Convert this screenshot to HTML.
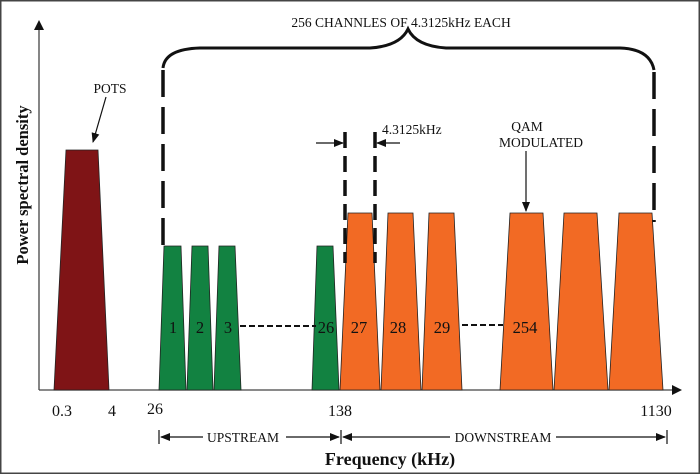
<!DOCTYPE html>
<html><head><meta charset="utf-8"><style>
html,body{margin:0;padding:0;background:#fff}
svg{display:block}
text{font-family:"Liberation Serif",serif;fill:#111}
</style></head><body>
<svg width="700" height="474" viewBox="0 0 700 474" xmlns="http://www.w3.org/2000/svg">
<defs>
<marker id="ah" markerWidth="10" markerHeight="8" refX="9" refY="4" orient="auto" markerUnits="userSpaceOnUse"><path d="M0,0 L10,4 L0,8 Z" fill="#111"/></marker>
</defs>
<rect x="0.75" y="0.75" width="698.5" height="472.5" fill="#fff" stroke="#444" stroke-width="1.5"/>
<!-- axes -->
<line x1="39" y1="390" x2="39" y2="26" stroke="#444" stroke-width="1.3"/>
<path d="M34,30 L39,20 L44,30 Z" fill="#111"/>
<line x1="39" y1="390" x2="676" y2="390" stroke="#444" stroke-width="1.3"/>
<path d="M672,385 L682,390 L672,395 Z" fill="#111"/>
<!-- POTS -->
<polygon points="54,390 66,150 98,150 109,390" fill="#7f1416" stroke="#222" stroke-width="0.8"/>
<!-- green -->
<g fill="#128241" stroke="#222" stroke-width="0.8">
<polygon points="159,390 164,246 181,246 186,390"/>
<polygon points="187,390 192,246 208,246 213,390"/>
<polygon points="214,390 219,246 235,246 241,390"/>
<polygon points="312,390 317,246 333,246 339,390"/>
</g>
<!-- orange -->
<g fill="#f26a24" stroke="#222" stroke-width="0.8">
<polygon points="340,390 348,213 372,213 380,390"/>
<polygon points="381,390 388,213 413,213 421,390"/>
<polygon points="422,390 429,213 454,213 462,390"/>
<polygon points="500,390 510,213 543,213 553,390"/>
<polygon points="554,390 564,213 597,213 608,390"/>
<polygon points="609,390 619,213 652,213 663,390"/>
</g>
<!-- dashed horizontals -->
<line x1="240" y1="326" x2="316" y2="326" stroke="#111" stroke-width="2" stroke-dasharray="6,3"/>
<line x1="462" y1="325" x2="503" y2="325" stroke="#111" stroke-width="2" stroke-dasharray="6,3"/>
<!-- channel labels -->
<g font-size="16.5" text-anchor="middle">
<text x="173" y="333">1</text><text x="200" y="333">2</text><text x="228" y="333">3</text>
<text x="326" y="333">26</text><text x="359" y="333">27</text><text x="398" y="333">28</text>
<text x="442" y="333">29</text><text x="525" y="333">254</text>
</g>
<!-- brace -->
<path d="M163,68 Q165,49 200,48 L370,48 Q400,46 408,29 Q416,46 446,48 L620,48 Q650,49 654,70" fill="none" stroke="#111" stroke-width="3"/>
<line x1="163" y1="70" x2="163" y2="252" stroke="#111" stroke-width="3.5" stroke-dasharray="27,10"/>
<line x1="654" y1="72" x2="654" y2="222" stroke="#111" stroke-width="3.5" stroke-dasharray="27,10"/>
<text x="401" y="27" font-size="13.5" text-anchor="middle">256 CHANNLES OF 4.3125kHz EACH</text>
<!-- 4.3125 markers -->
<line x1="345" y1="132" x2="345" y2="263" stroke="#111" stroke-width="3.5" stroke-dasharray="16,8"/>
<line x1="375" y1="132" x2="375" y2="263" stroke="#111" stroke-width="3.5" stroke-dasharray="16,8"/>
<line x1="316" y1="143" x2="343" y2="143" stroke="#111" stroke-width="1.2" marker-end="url(#ah)"/>
<line x1="400" y1="143" x2="377" y2="143" stroke="#111" stroke-width="1.2" marker-end="url(#ah)"/>
<text x="382" y="134" font-size="13.5">4.3125kHz</text>
<!-- QAM -->
<text x="527" y="131" font-size="13.5" text-anchor="middle">QAM</text>
<text x="541" y="147" font-size="13.5" text-anchor="middle">MODULATED</text>
<line x1="526" y1="151" x2="526" y2="211" stroke="#111" stroke-width="1.2" marker-end="url(#ah)"/>
<!-- POTS -->
<text x="110" y="93" font-size="13.5" text-anchor="middle">POTS</text>
<line x1="106" y1="97" x2="93" y2="142" stroke="#111" stroke-width="1.2" marker-end="url(#ah)"/>
<!-- x labels -->
<g font-size="16" text-anchor="middle">
<text x="62" y="416">0.3</text><text x="112" y="416">4</text><text x="155" y="414">26</text>
<text x="340" y="416">138</text><text x="656" y="416">1130</text>
</g>
<!-- up/down -->
<line x1="159" y1="430" x2="159" y2="444" stroke="#111" stroke-width="1.2"/>
<line x1="341" y1="430" x2="341" y2="444" stroke="#111" stroke-width="1.2"/>
<line x1="667" y1="430" x2="667" y2="444" stroke="#111" stroke-width="1.2"/>
<line x1="203" y1="437" x2="161" y2="437" stroke="#111" stroke-width="1.2" marker-end="url(#ah)"/>
<line x1="286" y1="437" x2="339" y2="437" stroke="#111" stroke-width="1.2" marker-end="url(#ah)"/>
<line x1="450" y1="437" x2="343" y2="437" stroke="#111" stroke-width="1.2" marker-end="url(#ah)"/>
<line x1="556" y1="437" x2="665" y2="437" stroke="#111" stroke-width="1.2" marker-end="url(#ah)"/>
<text x="243" y="442" font-size="13.5" text-anchor="middle">UPSTREAM</text>
<text x="503" y="442" font-size="13.5" text-anchor="middle">DOWNSTREAM</text>
<text x="390" y="465" font-size="18" font-weight="bold" text-anchor="middle">Frequency (kHz)</text>
<text transform="translate(28,185) rotate(-90)" font-size="16.5" font-weight="bold" text-anchor="middle">Power spectral density</text>
</svg>
</body></html>
